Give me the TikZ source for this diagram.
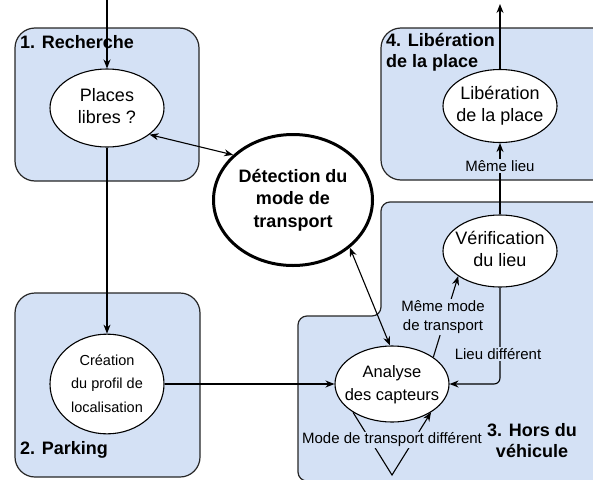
\documentclass[tikz,border=0pt]{standalone}
\usepackage{fontspec}
\setmainfont{Liberation Sans}
\usetikzlibrary{arrows.meta,shapes.geometric}
\definecolor{regfill}{HTML}{D4E1F5}
\newcommand{\elltext}[1]{\makebox[0pt]{\begin{tabular}{@{}c@{}}#1\end{tabular}}}
\begin{document}
\begin{tikzpicture}[x=1pt,y=-1pt,
  region/.style={draw=black!85, fill=regfill, line width=1.2pt, rounded corners=20pt},
  ell/.style={ellipse, draw=black, fill=white, line width=1.1pt, inner sep=0pt, font=\fontsize{18}{22.5}\selectfont},
  regtitle/.style={font=\bfseries\fontsize{18}{21}\selectfont, inner sep=0pt},
  lab/.style={fill=regfill, inner sep=1pt, font=\fontsize{15}{19}\selectfont, align=center},
  arr/.style={-{Stealth[length=9pt,width=7pt]}, line width=1.1pt},
  both/.style={{Stealth[length=9pt,width=7pt]}-{Stealth[length=9pt,width=7pt]}, line width=1.1pt}]
\useasboundingbox (0,0) rectangle (593,479);
\begin{scope}
\clip (0,0) rectangle (593,479);
\draw[region] (15,28) rectangle (199,181);
\draw[region] (15,293) rectangle (200,477);
\draw[region] (381,28) rectangle (615,180);
\draw[region, rounded corners=9pt] (381,202) -- (615,202) -- (615,481) -- (298,481) -- (298,316) -- (381,316) -- cycle;
\end{scope}

% region titles
\node[regtitle, anchor=west] (t1) at (20,42) {1. Recherche};
\node[regtitle, anchor=north west, align=left] (t4) at (386,33) {4. Libération\\de la place};
\node[regtitle, anchor=west] (t2) at (20,450) {2. Parking};
\node[regtitle, align=center] (t3) at (532,441) {3. Hors du\\véhicule};

% ellipses
\node[ell, minimum width=114pt, minimum height=78pt] (places) at (107,108) {\elltext{Places\\libres ?}};
\node[ell, line width=3pt, font=\bfseries\fontsize{18}{22.5}\selectfont, minimum width=159pt, minimum height=131pt] (detect) at (293,200) {\elltext{Détection du\\mode de\\transport}};
\node[ell, minimum width=114pt, minimum height=73pt] (lib) at (500,106) {\elltext{Libération\\de la place}};
\node[ell, minimum width=114pt, minimum height=72pt] (verif) at (500,251) {\elltext{Vérification\\du lieu}};
\node[ell, font=\fontsize{16.5}{23}\selectfont, minimum width=114pt, minimum height=76pt] (analyse) at (392,384) {\elltext{Analyse\\des capteurs}};
\node[ell, font=\fontsize{14.5}{23.5}\selectfont, minimum width=114pt, minimum height=74pt] (creation) at (107,384) {\elltext{Création\\du profil de\\localisation}};

\coordinate (intop) at (107,0);
\coordinate (outtop) at (500,4);
\coordinate (vbot) at (392,475);

% connectors
\draw[arr] (intop) -- (places);
\draw[arr] (places.south) -- (creation.north);
\draw[both] (places.-32) -- (detect.143);
\draw[both] (detect.-40) -- (analyse.93);
\draw[arr] (creation) -- (analyse);
\draw[arr] (analyse.33) -- (verif.-149);
\draw[arr, rounded corners=6pt] (verif.south) |- (analyse.east);
\draw[arr] (verif.north) -- (lib.south);
\draw[arr] (lib.north) -- (outtop);
\draw[arr] (analyse.-144) -- (vbot) -- (analyse.-36);

% connector labels
\node[lab] (l1) at (443,317) {Même mode\\de transport};
\node[lab] (l2) at (498,354) {Lieu différent};
\node[lab] (l3) at (500,166) {Même lieu};
\node[lab] (l4) at (392,440) {Mode de transport différent};
\end{tikzpicture}
\end{document}
